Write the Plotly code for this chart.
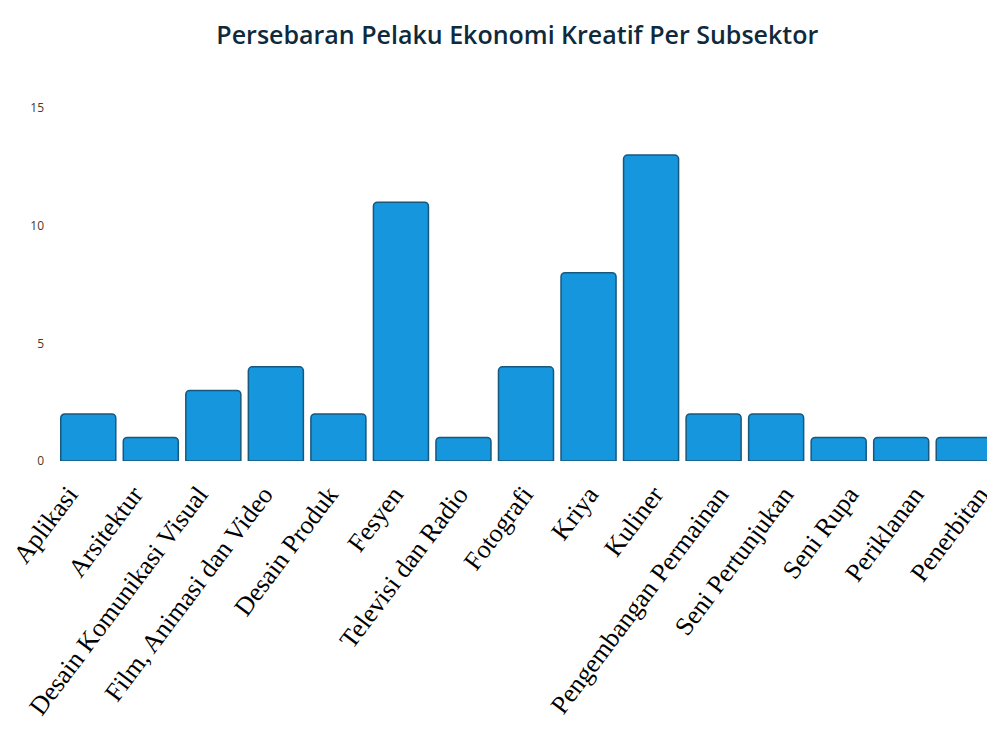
import plotly.graph_objects as go

categories = ["Aplikasi", "Arsitektur", "Desain Komunikasi Visual", "Film, Animasi dan Video",
              "Desain Produk", "Fesyen", "Televisi dan Radio", "Fotografi", "Kriya", "Kuliner",
              "Pengembangan Permainan", "Seni Pertunjukan", "Seni Rupa", "Periklanan", "Penerbitan"]
values = [2, 1, 3, 4, 2, 11, 1, 4, 8, 13, 2, 2, 1, 1, 1]
y_ticks = [0, 5, 10, 15]

idx = list(range(len(categories)))

fig = go.Figure()
fig.add_trace(go.Bar(
    x=categories, y=values,
    marker=dict(color="#1596dd", line=dict(color="#17587e", width=1.5), cornerradius=4),
))
# label axis (labels in the original are spaced slightly wider than the bars)
fig.add_trace(go.Scatter(x=idx, y=values, xaxis="x2", mode="markers",
                         marker=dict(opacity=0), hoverinfo="skip", showlegend=False))

fig.update_layout(
    width=987, height=713,
    margin=dict(l=49, r=0, t=100, b=260, autoexpand=False),
    paper_bgcolor="white", plot_bgcolor="white",
    bargap=0.12,
    showlegend=False,
    title=dict(text="Persebaran Pelaku Ekonomi Kreatif Per Subsektor",
               x=0.516, xanchor="center", y=0.9621, yanchor="middle",
               font=dict(family="Open Sans", size=25, color="#0e2a3c", weight=600)),
    xaxis=dict(showticklabels=False, showgrid=False, showline=False, zeroline=False,
               automargin=False),
    xaxis2=dict(overlaying="x", anchor="y", side="bottom", type="linear",
                range=[-0.1791, 14.239], tickvals=idx, ticktext=categories,
                tickangle=-53, ticklabelstandoff=12, ticklabeloverflow="allow",
                showgrid=False, showline=False,
                zeroline=False, automargin=False, ticks="",
                tickfont=dict(family="Liberation Serif", size=26, color="black")),
    yaxis=dict(range=[0, 15], tickvals=y_ticks, showgrid=False, zeroline=False, showline=False,
               automargin=False, ticklabelstandoff=12,
               tickfont=dict(family="Open Sans", size=12, color="#4a3a1e")),
)

fig.write_html("out.html")
